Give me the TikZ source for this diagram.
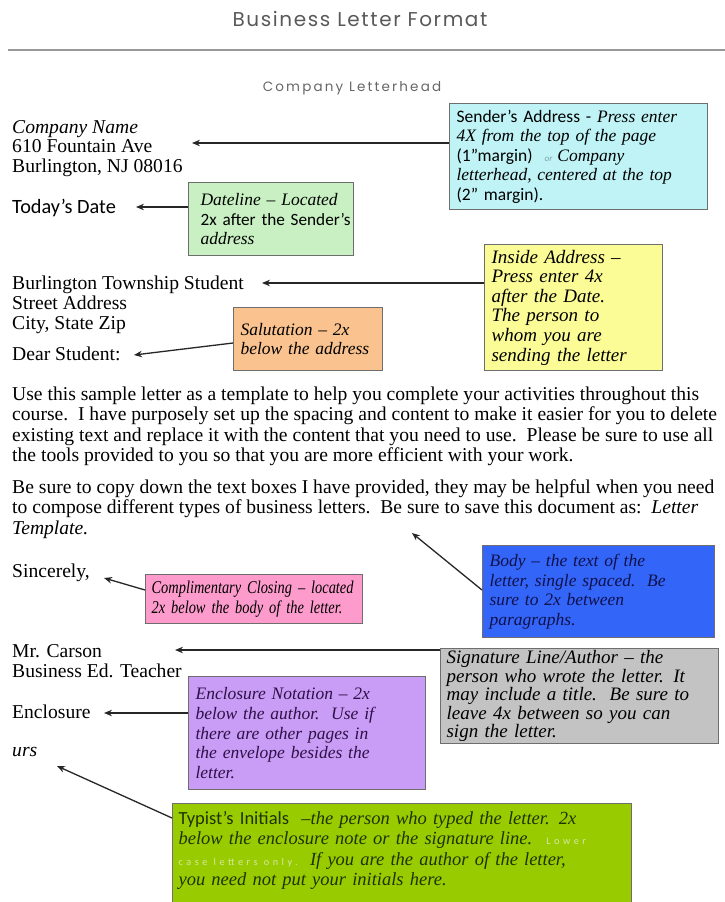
\documentclass[tikz,border=0pt]{standalone}
\usepackage{fontspec}
\setmainfont{Liberation Serif}
\newfontfamily\calfont{Carlito}
\newfontfamily\headfont[LetterSpace=8]{Poppins}
\newfontfamily\subheadfont[LetterSpace=16]{Poppins}
\newfontfamily\widesans[LetterSpace=35]{Carlito}
\newfontfamily\condserif[FakeStretch=0.8]{Liberation Serif}
\usetikzlibrary{arrows.meta}

\definecolor{cyanfill}{HTML}{BFF3F6}
\definecolor{greenfill}{HTML}{C8F0C2}
\definecolor{yellowfill}{HTML}{FCFC96}
\definecolor{orangefill}{HTML}{F9C28E}
\definecolor{bluefill}{HTML}{3366F8}
\definecolor{pinkfill}{HTML}{FD9BCC}
\definecolor{greyfill}{HTML}{C3C3C3}
\definecolor{purplefill}{HTML}{C99CF6}
\definecolor{limefill}{HTML}{99CC00}
\definecolor{boxline}{HTML}{6E6E6E}
\definecolor{navytext}{HTML}{10104A}
\definecolor{purpletext}{HTML}{2E1048}
\definecolor{limetext}{HTML}{1E3300}
\definecolor{faint}{HTML}{D6E6A4}
\definecolor{orgrey}{HTML}{7F9FA2}

% tiny, widely spaced words inside the notes
\newcommand{\tinyword}[1]{{\widesans\upshape\fontsize{10.2}{10}\selectfont #1}}
\newcommand{\sz}[2]{\fontsize{#1}{#2}\selectfont}

\begin{document}
\begin{tikzpicture}[x=1pt,y=-1pt,
  letter/.style={anchor=base west, inner sep=0pt, font=\sz{19.6}{20.5}},
  note/.style={anchor=north west, inner xsep=7pt, inner ysep=2pt, align=left,
    draw=boxline, line width=1.2pt, font=\sz{17.5}{19.6}\itshape},
  ptr/.style={-{Stealth[length=8pt,width=6.5pt]}, line width=1.3pt, black!85}]
\useasboundingbox (0,0) rectangle (725,902);

% heading
\node[inner sep=0pt, text=black!65, font=\headfont\sz{20}{22}] (title) at (360,19) {Business Letter Format};
\draw[line width=2pt, black!40] (8,50) -- (725,50);
\node[inner sep=0pt, text=black!60, font=\subheadfont\sz{13.5}{16}] (letterhead) at (352,88) {Company Letterhead};

% letter text
\node[letter] (coname) at (12,133) {\itshape Company Name};
\node[letter] (costreet) at (12,152.5) {610 Fountain Ave};
\node[letter] (cocity) at (12,172) {Burlington, NJ 08016};
\node[letter, font=\calfont\sz{20.3}{22}] (date) at (12,213) {Today’s Date};
\node[letter] (inname) at (12,289) {Burlington Township Student};
\node[letter] (instreet) at (12,309) {Street Address};
\node[letter] (incity) at (12,329) {City, State Zip};
\node[letter] (dear) at (12,360) {Dear Student:};

\node[letter] (pa) at (12,400) {Use this sample letter as a template to help you complete your activities throughout this};
\node[letter] (pb) at (12,420.5) {course.\ \ I have purposely set up the spacing and content to make it easier for you to delete};
\node[letter] (pc) at (12,441) {existing text and replace it with the content that you need to use.\ \ Please be sure to use all};
\node[letter] (pd) at (12,461.5) {the tools provided to you so that you are more efficient with your work.};
\node[letter] (qa) at (12,493) {Be sure to copy down the text boxes I have provided, they may be helpful when you need};
\node[letter] (qb) at (12,513.5) {to compose different types of business letters.\ \ Be sure to save this document as:\ \ \itshape Letter};
\node[letter] (qc) at (12,534) {\itshape Template.};

\node[letter] (close) at (12,577) {Sincerely,};
\node[letter] (author) at (12,657) {Mr. Carson};
\node[letter] (title2) at (12,677) {Business Ed. Teacher};
\node[letter] (encl) at (12,718) {Enclosure};
\node[letter] (initials) at (12,756) {\itshape urs};

% explanatory notes
\node[note, fill=cyanfill, minimum width=258pt, minimum height=106pt, text width=244pt] (sender) at (449,103)
  {{\calfont\upshape Sender’s Address - }Press enter\\
   4X from the top of the page\\
   {\calfont\upshape (1”margin)}\hspace{12pt}{\calfont\color{orgrey}\sz{9}{10}or}\hspace{5pt}Company\\
   letterhead, centered at the top\\
   {\calfont\upshape (2” margin).}};

\node[note, fill=greenfill, minimum width=165pt, minimum height=73pt, text width=157pt, inner xsep=4pt] (dateline) at (188,182)
  {\hspace*{8pt}Dateline – Located\\
   \hspace*{8pt}\mbox{\calfont\upshape\sz{17.2}{19.6}2x after the Sender’s}\\
   \hspace*{8pt}address};

\node[note, fill=yellowfill, minimum width=178pt, minimum height=126pt, text width=164pt, font=\sz{19}{19.6}\itshape] (inside) at (484,244)
  {Inside Address –\\ Press enter 4x\\ after the Date.\\ The person to\\ whom you are\\ sending the letter};

\node[note, fill=orangefill, minimum width=149pt, minimum height=63pt, text width=135pt] (salut) at (233,307)
  {Salutation – 2x\\ below the address};

\node[note, fill=bluefill, text=navytext, minimum width=232pt, minimum height=92pt, text width=218pt] (body) at (482,545)
  {Body – the text of the\\ letter, single spaced.\ \ Be\\ sure to 2x between\\ paragraphs.};

\node[note, fill=pinkfill, minimum width=217pt, minimum height=49pt, text width=205pt, font=\condserif\sz{18}{19.5}\itshape, inner xsep=6pt] (closing) at (145,574)
  {\mbox{Complimentary Closing – located}\\ \mbox{2x below the body of the letter.}};

\node[note, fill=greyfill, minimum width=278pt, minimum height=89pt, text width=266pt, font=\sz{19}{18.5}\itshape, inner xsep=6pt] (sig) at (440,648)
  {Signature Line/Author – the\\ person who wrote the letter. It\\ may include a title.\ \ Be sure to\\ leave 4x between so you can\\ sign the letter.};

\node[note, fill=purplefill, text=purpletext, minimum width=237pt, minimum height=113pt, text width=223pt] (enclnote) at (188,676)
  {Enclosure Notation – 2x\\ below the author.\ \ Use if\\ there are other pages in\\ the envelope besides the\\ letter.};

\node[note, fill=limefill, text=limetext, minimum width=459pt, text width=447pt, inner xsep=6pt, inner ysep=8pt, font=\sz{18.5}{20.3}\itshape] (typist) at (172,803)
  {{\calfont\upshape Typist’s Initials }\ –the person who typed the letter. 2x\\
   below the enclosure note or the signature line.\hspace{14pt}{\color{faint}\tinyword{Lower}}\\
   {\color{faint}\tinyword{case letters only.}}\ \ If you are the author of the letter,\\
   you need not put your initials here.\\
   \rule{0pt}{12pt}};

% pointers from each note to the part of the letter it describes
\coordinate (senderTip) at (192,143);
\draw[ptr] (senderTip -| sender.west) -- (senderTip);
\coordinate (dateTip) at (136,207);
\draw[ptr] (dateTip -| dateline.west) -- (dateTip);
\coordinate (insideTip) at (262,283);
\draw[ptr] (insideTip -| inside.west) -- (insideTip);
\coordinate (salutTip) at (134,355);
\draw[ptr] ([yshift=-36pt]salut.north west) -- (salutTip);
\coordinate (bodyTip) at (412,533);
\draw[ptr] ([yshift=-45pt]body.north west) -- (bodyTip);
\coordinate (closeTip) at (104,578);
\draw[ptr] ([yshift=-16pt]closing.north west) -- (closeTip);
\coordinate (sigTip) at (175,650);
\draw[ptr] (sigTip -| sig.west) -- (sigTip);
\coordinate (enclTip) at (104,713);
\draw[ptr] (enclTip -| enclnote.west) -- (enclTip);
\coordinate (typTip) at (57,766);
\draw[ptr] ([yshift=-15pt]typist.north west) -- (typTip);
\end{tikzpicture}
\end{document}
